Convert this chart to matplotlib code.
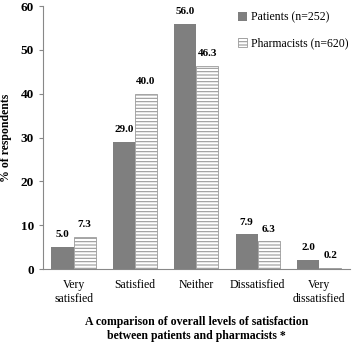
import numpy as np
import matplotlib.pyplot as plt

categories = ['Very\nsatisfied', 'Satisfied', 'Neither', 'Dissatisfied', 'Very\ndissatisfied']
patients = [5.0, 29.0, 56.0, 7.9, 2.0]
pharmacists = [7.3, 40.0, 46.3, 6.3, 0.2]

plt.rcParams['font.family'] = 'Liberation Serif'
plt.rcParams['hatch.color'] = '#8c8c8c'
plt.rcParams['hatch.linewidth'] = 0.8

fig = plt.figure(figsize=(3.57, 3.55), dpi=100)
ax = fig.add_axes([0.12, 0.242, 0.86, 0.741])

x = np.arange(len(categories))
w = 0.36
b1 = ax.bar(x - w / 2, patients, w, color='#7f7f7f', label='Patients (n=252)')
b2 = ax.bar(x + w / 2, pharmacists, w, color='white', edgecolor='#9a9a9a',
            linewidth=0.6, hatch='-----', label='Pharmacists (n=620)')

# value labels above bars
for bars, vals in ((b1, patients), (b2, pharmacists)):
    for bar, v in zip(bars, vals):
        ax.text(bar.get_x() + bar.get_width() / 2, v + 1.8, f'{v:.1f}',
                ha='center', va='bottom', fontsize=8, fontweight='bold')

ax.set_ylim(0, 60)
ax.set_xlim(-0.5, 4.5)
ax.set_yticks(range(0, 61, 10))
ax.set_xticks(x)
ax.set_xticklabels(categories, fontsize=8.5)
ax.tick_params(axis='y', labelsize=9.5, length=3, color='#888888')
for lbl in ax.get_yticklabels():
    lbl.set_fontweight('bold')
ax.tick_params(axis='x', length=0, pad=7)

for s in ['top', 'right']:
    ax.spines[s].set_visible(False)
ax.spines['left'].set_color('#888888')
ax.spines['bottom'].set_color('#888888')

ax.set_ylabel('% of respondents', fontsize=8.5, fontweight='bold', labelpad=6)
ax.set_xlabel('A comparison of overall levels of satisfaction\nbetween patients and pharmacists *',
              fontsize=8.5, fontweight='bold', labelpad=8)

ax.legend(loc='upper left', bbox_to_anchor=(0.6, 1.02), frameon=False,
          fontsize=8.5, handlelength=0.8, handleheight=0.8, handletextpad=0.3,
          labelspacing=1.2)

fig.savefig('out.png', dpi=100)
